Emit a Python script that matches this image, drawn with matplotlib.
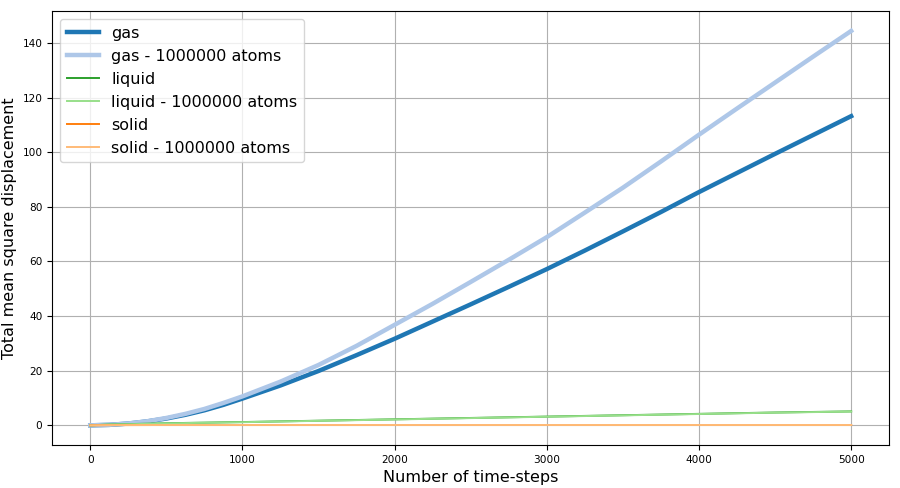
import matplotlib
matplotlib.use('Agg')
import matplotlib.pyplot as plt

# time-steps
steps = [0, 125, 250, 375, 500, 625, 750, 875, 1000, 1250, 1500, 1750,
         2000, 2250, 2500, 2750, 3000, 3250, 3500, 3750, 4000, 4250,
         4500, 4750, 5000]

# total mean square displacement
gas = [0, 0.17, 0.65, 1.45, 2.5, 3.85, 5.5, 7.5, 9.8, 14.6, 19.9, 25.7,
       31.7, 38.0, 44.3, 50.7, 57.2, 64.0, 71.0, 78.1, 85.4, 92.4,
       99.4, 106.3, 113.2]
gas_big = [0, 0.18, 0.68, 1.5, 2.7, 4.2, 6.0, 8.2, 10.6, 16.0, 22.1, 29.1,
           36.8, 44.5, 52.5, 60.6, 68.9, 77.9, 87.0, 96.6, 106.4, 116.0,
           125.5, 135.0, 144.4]
liquid = [0, 0.3, 0.45, 0.6, 0.75, 0.88, 0.98, 1.1, 1.2, 1.45, 1.7, 1.95,
          2.2, 2.45, 2.7, 2.95, 3.2, 3.45, 3.7, 3.95, 4.2, 4.45,
          4.7, 4.9, 5.1]
liquid_big = [0, 0.28, 0.4, 0.55, 0.7, 0.83, 0.95, 1.05, 1.15, 1.4, 1.65, 1.9,
              2.15, 2.4, 2.65, 2.9, 3.15, 3.4, 3.65, 3.9, 4.15, 4.4,
              4.65, 4.85, 5.05]
solid = [0, 0.08, 0.1, 0.11, 0.12, 0.12, 0.12, 0.13, 0.13, 0.13, 0.13, 0.13,
         0.13, 0.13, 0.13, 0.13, 0.13, 0.13, 0.13, 0.13, 0.13, 0.13,
         0.13, 0.13, 0.13]
solid_big = [0, 0.08, 0.1, 0.11, 0.12, 0.12, 0.12, 0.13, 0.13, 0.13, 0.13, 0.13,
             0.13, 0.13, 0.13, 0.13, 0.13, 0.13, 0.13, 0.13, 0.13, 0.13,
             0.13, 0.13, 0.13]

plt.figure(figsize=(9, 4.88), dpi=100)
plt.plot(steps, gas, color='#1f77b4', lw=3.2, label='gas')
plt.plot(steps, gas_big, color='#aec7e8', lw=3.2, label='gas - 1000000 atoms')
plt.plot(steps, liquid, color='#2ca02c', lw=1.4, label='liquid')
plt.plot(steps, liquid_big, color='#98df8a', lw=1.4, label='liquid - 1000000 atoms')
plt.plot(steps, solid, color='#ff7f0e', lw=1.4, label='solid')
plt.plot(steps, solid_big, color='#ffbb78', lw=1.4, label='solid - 1000000 atoms')
plt.xlabel('Number of time-steps', fontsize=11.5)
plt.ylabel('Total mean square displacement', fontsize=11.5)
plt.xticks(fontsize=7.6)
plt.yticks(fontsize=7.6)
plt.grid(True)
plt.legend(loc='upper left', fontsize=11.5)
plt.subplots_adjust(left=0.058, right=0.988, top=0.977, bottom=0.088)
plt.savefig('out.png', dpi=100)
